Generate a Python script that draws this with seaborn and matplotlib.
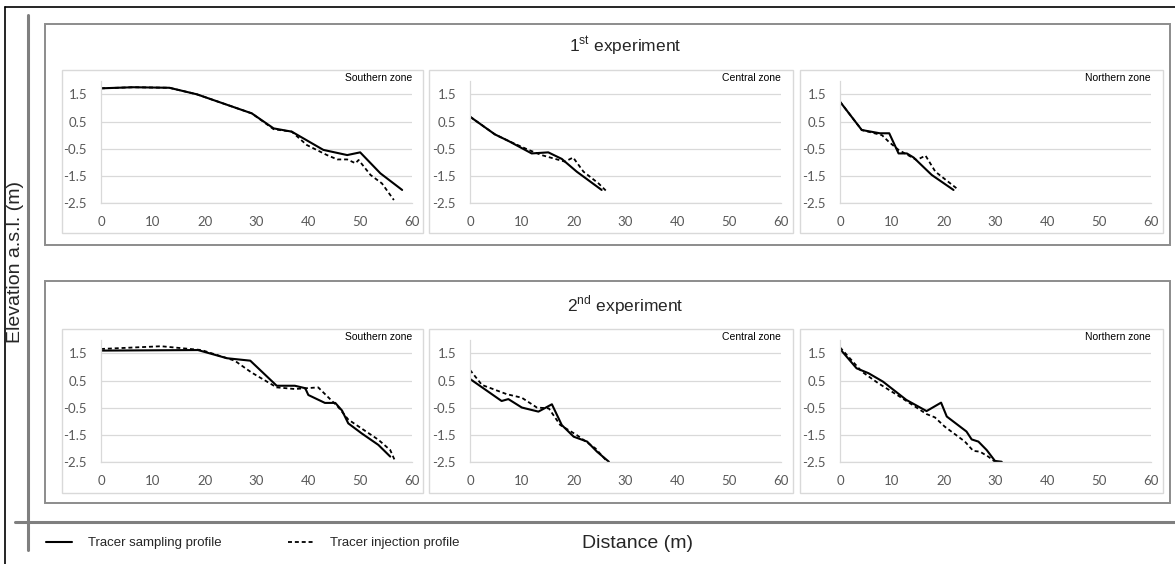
import numpy as np
import pandas as pd
import matplotlib
matplotlib.use("Agg")
import matplotlib.pyplot as plt
import seaborn as sns
from matplotlib.lines import Line2D
from matplotlib.patches import Rectangle

# ---------------- data ----------------
experiments = ["1$^{\\mathregular{st}}$ experiment", "2$^{\\mathregular{nd}}$ experiment"]
zones = ["Southern zone", "Central zone", "Northern zone"]
profiles = ["Tracer sampling profile", "Tracer injection profile"]
y_ticks = [1.5, 0.5, -0.5, -1.5, -2.5]
x_ticks = [0, 10, 20, 30, 40, 50, 60]

# 1st experiment
e1_south_sampling_x = [0, 6.2, 13.2, 18.5, 29.1, 33.3, 36.8, 42.9, 47.5, 50.0, 53.9, 58.1]
e1_south_sampling_y = [1.72, 1.76, 1.74, 1.50, 0.80, 0.25, 0.13, -0.54, -0.73, -0.63, -1.40, -2.01]
e1_south_injection_x = [0, 6.2, 13.2, 18.5, 29.1, 33.3, 36.8, 39.7, 43.6, 45.6, 47.5, 49.1, 49.7, 52.0, 54.2, 56.5]
e1_south_injection_y = [1.72, 1.76, 1.74, 1.50, 0.80, 0.22, 0.13, -0.36, -0.73, -0.89, -0.89, -1.03, -0.91, -1.46, -1.77, -2.38]

e1_central_sampling_x = [0, 4.8, 7.4, 11.9, 15.1, 17.7, 20.6, 25.4]
e1_central_sampling_y = [0.68, 0.03, -0.21, -0.67, -0.63, -0.87, -1.34, -2.01]
e1_central_injection_x = [0, 4.8, 7.4, 11.3, 13.8, 18.3, 19.9, 21.9, 24.8, 26.4]
e1_central_injection_y = [0.68, 0.03, -0.21, -0.54, -0.73, -0.97, -0.82, -1.34, -1.77, -2.07]

e1_north_sampling_x = [0, 4.2, 7.7, 9.5, 11.3, 12.9, 14.2, 17.7, 21.9]
e1_north_sampling_y = [1.23, 0.19, 0.07, 0.07, -0.67, -0.67, -0.82, -1.46, -2.01]
e1_north_injection_x = [0, 4.2, 8.1, 9.4, 11.3, 14.8, 16.5, 18.4, 22.9]
e1_north_injection_y = [1.23, 0.19, 0.00, -0.24, -0.54, -0.91, -0.75, -1.34, -2.01]

# 2nd experiment
e2_south_sampling_x = [0, 18.7, 24.3, 28.8, 33.9, 37.4, 39.4, 40.0, 43.2, 45.2, 46.5, 47.7, 50.3, 53.5, 55.8]
e2_south_sampling_y = [1.60, 1.62, 1.32, 1.23, 0.31, 0.31, 0.22, -0.03, -0.32, -0.32, -0.60, -1.07, -1.44, -1.86, -2.29]
e2_south_injection_x = [0, 11.6, 19.4, 25.8, 29.0, 33.9, 37.4, 41.9, 45.8, 47.7, 53.5, 55.8, 56.8]
e2_south_injection_y = [1.66, 1.76, 1.62, 1.23, 0.80, 0.25, 0.19, 0.25, -0.48, -0.93, -1.67, -2.05, -2.48]

e2_central_sampling_x = [0, 6.1, 7.4, 10.0, 13.2, 15.8, 17.7, 20.0, 22.6, 24.5, 26.8]
e2_central_sampling_y = [0.56, -0.25, -0.18, -0.49, -0.64, -0.37, -1.13, -1.56, -1.74, -2.11, -2.48]
e2_central_injection_x = [0, 2.3, 7.1, 10.0, 12.9, 15.2, 17.4, 20.6, 24.2, 26.5]
e2_central_injection_y = [0.89, 0.34, 0.00, -0.13, -0.49, -0.52, -1.13, -1.50, -1.99, -2.48]

e2_north_sampling_x = [0, 3.2, 5.5, 8.3, 12.8, 16.7, 19.5, 20.6, 24.4, 25.4, 26.7, 28.3, 29.9, 31.2]
e2_north_sampling_y = [1.66, 0.95, 0.77, 0.46, -0.21, -0.62, -0.31, -0.82, -1.37, -1.66, -1.74, -2.05, -2.45, -2.48]
e2_north_injection_x = [0, 4.2, 7.4, 11.2, 16.7, 18.3, 20.2, 24.1, 25.7, 27.0, 28.6, 29.9, 31.2]
e2_north_injection_y = [1.72, 0.83, 0.40, -0.05, -0.73, -0.85, -1.19, -1.74, -2.08, -2.11, -2.29, -2.48, -2.50]

series = [
    (0, 0, e1_south_sampling_x, e1_south_sampling_y, e1_south_injection_x, e1_south_injection_y),
    (0, 1, e1_central_sampling_x, e1_central_sampling_y, e1_central_injection_x, e1_central_injection_y),
    (0, 2, e1_north_sampling_x, e1_north_sampling_y, e1_north_injection_x, e1_north_injection_y),
    (1, 0, e2_south_sampling_x, e2_south_sampling_y, e2_south_injection_x, e2_south_injection_y),
    (1, 1, e2_central_sampling_x, e2_central_sampling_y, e2_central_injection_x, e2_central_injection_y),
    (1, 2, e2_north_sampling_x, e2_north_sampling_y, e2_north_injection_x, e2_north_injection_y),
]
rows = []
for r, c, sx, sy, ix, iy in series:
    for x, y in zip(sx, sy):
        rows.append((r, c, profiles[0], x, y))
    for x, y in zip(ix, iy):
        rows.append((r, c, profiles[1], x, y))
df = pd.DataFrame(rows, columns=["exp", "zone", "profile", "distance", "elevation"])

# ---------------- styling ----------------
sns.set_style("white")
plt.rcParams["font.family"] = ["Liberation Sans", "DejaVu Sans"]

W, H = 1175, 564
fig = plt.figure(figsize=(W / 100, H / 100), dpi=100)


def fx(x):
    return x / W


def fy(y):
    return 1 - y / H


GRID = "#d9d9d9"
TICKC = "#595959"
BOXC = "#8c8c8c"
DASH = (2.2, 1.6)

# outer black frame (left and top)
fig.add_artist(Line2D([fx(5), fx(5)], [fy(7), fy(570)], color="black", lw=1.2, transform=fig.transFigure))
fig.add_artist(Line2D([fx(5), fx(1180)], [fy(7), fy(7)], color="black", lw=1.2, transform=fig.transFigure))

# big axis-like gray lines
fig.add_artist(Line2D([fx(28), fx(28)], [fy(15), fy(550)], color="#7f7f7f", lw=2.2, transform=fig.transFigure))
fig.add_artist(Line2D([fx(15), fx(1180)], [fy(522), fy(522)], color="#7f7f7f", lw=2.2, transform=fig.transFigure))

# group boxes
for (y0, y1) in [(24, 245), (281, 503)]:
    fig.add_artist(Rectangle((fx(45), fy(y1)), fx(1170) - fx(45), fy(y0) - fy(y1),
                             fill=False, edgecolor=BOXC, lw=1.4, transform=fig.transFigure))

panel_x = [(62, 423), (429, 793), (800, 1163)]
panel_y = [(70, 233), (329, 493)]
for (py0, py1) in panel_y:
    for (px0, px1) in panel_x:
        fig.add_artist(Rectangle((fx(px0), fy(py1)), fx(px1) - fx(px0), fy(py0) - fy(py1),
                                 fill=False, edgecolor=GRID, lw=1.0, transform=fig.transFigure))

ax_left = [101, 470, 840]
ax_w = 311
ax_top = [80.7, 339.7]
ax_h = 122.6

widths = {profiles[0]: 1.5, profiles[1]: 1.3}

for r in range(2):
    for c in range(3):
        ax = fig.add_axes([fx(ax_left[c]), fy(ax_top[r] + ax_h), fx(ax_w), ax_h / H])
        ax.set_facecolor("none")
        sub = df[(df["exp"] == r) & (df["zone"] == c)]
        for p in profiles:
            sns.lineplot(data=sub[sub["profile"] == p], x="distance", y="elevation",
                         color="black", lw=widths[p], estimator=None,
                         sort=False, legend=False, ax=ax)
            if p == profiles[1]:
                ax.lines[-1].set_dashes(DASH)
        ax.set_xlim(0, 60)
        ax.set_ylim(-2.5, 2.0)
        ax.set_xticks(x_ticks)
        ax.set_yticks(y_ticks)
        ax.set_yticklabels([f"{v:.1f}" for v in y_ticks])
        ax.set_xlabel("")
        ax.set_ylabel("")
        ax.grid(axis="y", color=GRID, lw=0.9)
        ax.grid(axis="x", visible=False)
        for s in ["top", "right"]:
            ax.spines[s].set_visible(False)
        for s in ["left", "bottom"]:
            ax.spines[s].set_color(GRID)
            ax.spines[s].set_linewidth(0.9)
        ax.tick_params(axis="x", length=3.5, width=0.9, color=GRID, pad=6,
                       labelsize=9.5, labelcolor=TICKC)
        ax.tick_params(axis="y", length=0, pad=10, labelsize=9.5, labelcolor=TICKC)
        for lab in ax.get_xticklabels() + ax.get_yticklabels():
            lab.set_fontfamily(["Lato", "DejaVu Sans"])
        ax.text(1.0, 1.02, zones[c], transform=ax.transAxes, ha="right", va="center",
                fontsize=7.5, color="black")

# experiment titles
fig.text(fx(625), fy(46), experiments[0], ha="center", va="center", fontsize=12.5)
fig.text(fx(625), fy(305), experiments[1], ha="center", va="center", fontsize=12.5)

# axis titles
fig.text(fx(16), fy(262), "Elevation a.s.l. (m)", rotation=90, ha="center", va="center", fontsize=14)
fig.text(fx(638), fy(543), "Distance (m)", ha="center", va="center", fontsize=14)

# legend
handles = [Line2D([], [], color="black", lw=1.5),
           Line2D([], [], color="black", lw=1.3, dashes=DASH)]
fig.legend(handles, profiles, loc="center left", bbox_to_anchor=(fx(34), fy(543)), ncol=2,
           frameon=False, fontsize=9.5, handlelength=2.0, handletextpad=1.2, columnspacing=5.0)

fig.savefig("out.png", dpi=100)
